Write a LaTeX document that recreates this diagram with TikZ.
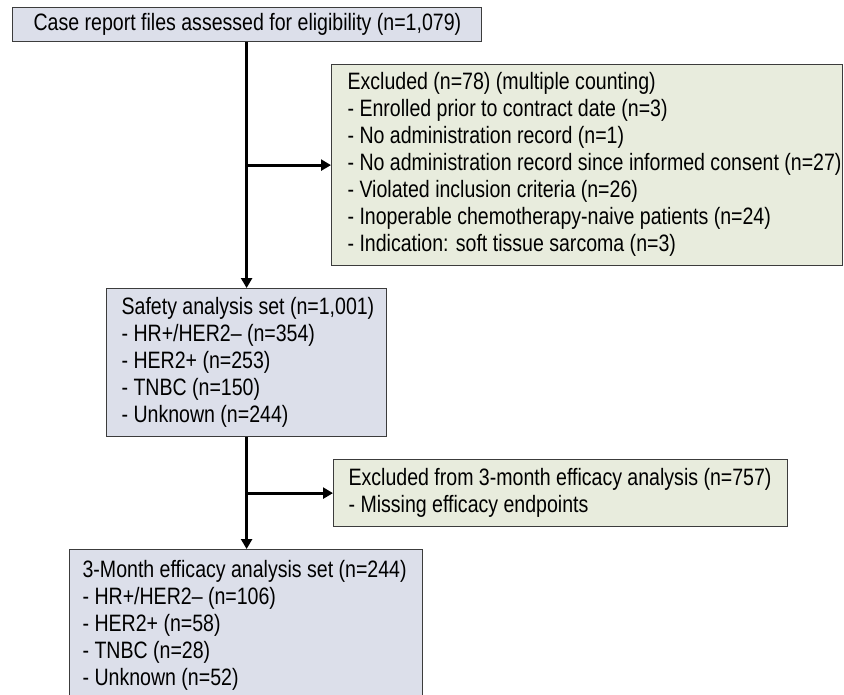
\documentclass[tikz,border=0pt]{standalone}
\usepackage{fontspec}
\setmainfont{Liberation Sans}[FakeStretch=0.825]
\usetikzlibrary{arrows.meta}
\definecolor{bluefill}{HTML}{DCDFEA}
\definecolor{greenfill}{HTML}{E8ECDD}
\definecolor{edgecol}{HTML}{3C3C3C}
\newcommand{\boxtext}[3]{\makebox[#1][l]{\begin{tabular}{@{\hspace{#2}}l@{}}#3\end{tabular}}}
\begin{document}
\begin{tikzpicture}[x=1pt,y=-1pt,
  boxbase/.style={draw=edgecol, line width=1.2pt, rectangle, anchor=north west,
    inner sep=0pt, font=\fontsize{23.7}{27}\selectfont},
  sbox/.style={boxbase, fill=bluefill},
  gbox/.style={boxbase, fill=greenfill},
  conn/.style={line width=3pt, -{Triangle[length=10pt,width=11pt]}}
]
\useasboundingbox (0,0) rectangle (844,694);
\clip (0,0) rectangle (844,694);

\node[sbox, minimum width=469pt, minimum height=34pt] (top) at (12,7)
  {\boxtext{469pt}{21pt}{Case report files assessed for eligibility (n=1,079)}};

\node[gbox, minimum width=511pt, minimum height=201pt] (excla) at (331,64)
  {\boxtext{511pt}{16pt}{Excluded (n=78) (multiple counting)\\
   - Enrolled prior to contract date (n=3)\\
   - No administration record (n=1)\\
   - No administration record since informed consent (n=27)\\
   - Violated inclusion criteria (n=26)\\
   - Inoperable chemotherapy-naive patients (n=24)\\
   - Indication: soft tissue sarcoma (n=3)}};

\node[sbox, minimum width=280pt, minimum height=148pt] (safety) at (106,288)
  {\boxtext{280pt}{15pt}{Safety analysis set (n=1,001)\\
   - HR+/HER2– (n=354)\\
   - HER2+ (n=253)\\
   - TNBC (n=150)\\
   - Unknown (n=244)}};

\node[gbox, minimum width=454pt, minimum height=67pt] (exclb) at (333,459)
  {\boxtext{454pt}{15pt}{Excluded from 3-month efficacy analysis (n=757)\\
   - Missing efficacy endpoints}};

\node[sbox, minimum width=353pt, minimum height=152pt] (eff) at (69,549)
  {\boxtext{353pt}{13pt}{3-Month efficacy analysis set (n=244)\\
   - HR+/HER2– (n=106)\\
   - HER2+ (n=58)\\
   - TNBC (n=28)\\
   - Unknown (n=52)}};

\draw[conn] (safety.north |- top.south) -- (safety.north);
\draw[conn] (safety.north |- excla.west) -- (excla.west);
\draw[conn] (safety.south) -- (safety.south |- eff.north);
\draw[conn] (safety.south |- exclb.west) -- (exclb.west);
\end{tikzpicture}
\end{document}
